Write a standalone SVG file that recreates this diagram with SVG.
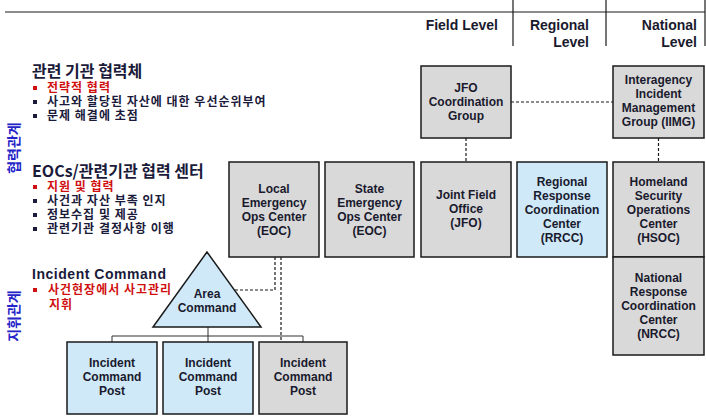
<svg xmlns="http://www.w3.org/2000/svg" width="706" height="416" viewBox="0 0 706 416">
<style>
.hdr{font-family:"Liberation Sans",Arial,sans-serif;font-weight:bold;font-size:14px;fill:#1a1a2e;text-anchor:end}
.nt{font-family:"Liberation Sans",Arial,sans-serif;font-weight:bold;font-size:12px;fill:#1a1a2e;text-anchor:middle}
.gray{fill:#d9d9d9;stroke:#1a1a1a;stroke-width:1.5}
.blue{fill:#cfe9f9;stroke:#1a1a1a;stroke-width:1.5}
.ko{font-family:"Noto Sans CJK KR",sans-serif;font-weight:bold;fill:#1a1a3a}
.kt{font-size:16px}
.kb{font-size:12px;letter-spacing:1px}
.red{fill:#d01010}
.vt{font-family:"Noto Sans CJK KR",sans-serif;font-weight:bold;font-size:14px;fill:#2424c8;text-anchor:middle}
.dash{fill:none;stroke:#1a1a1a;stroke-width:1.2;stroke-dasharray:3,2}
.solid{fill:none;stroke:#333;stroke-width:1}
.hl{stroke:#1a1a1a;stroke-width:1.2}
</style>
<rect width="706" height="416" fill="#ffffff"/>
<g id="header">
<line class="hl" x1="5" y1="12" x2="705" y2="12"/>
<line class="hl" x1="513" y1="0" x2="513" y2="46"/>
<line class="hl" x1="606" y1="0" x2="606" y2="46"/>
<line class="hl" x1="705" y1="0" x2="705" y2="46"/>
<text class="hdr" x="498" y="30">Field Level</text>
<text class="hdr" x="589" y="30">Regional</text>
<text class="hdr" x="589" y="47">Level</text>
<text class="hdr" x="697" y="30">National</text>
<text class="hdr" x="697" y="47">Level</text>
</g>
<g id="legend">
<text class="vt" transform="translate(19,148) rotate(-90)">협력관계</text>
<text class="vt" transform="translate(19,316) rotate(-90)">지휘관계</text>
<text class="ko kt" x="32" y="77">관련 기관 협력체</text>
<rect x="33" y="86" width="4" height="4" fill="#d01010"/>
<text class="ko kb red" x="47" y="92">전략적 협력</text>
<rect x="33" y="100" width="4" height="4" fill="#1a1a3a"/>
<text class="ko kb" x="47" y="106">사고와 할당된 자산에 대한 우선순위부여</text>
<rect x="33" y="114" width="4" height="4" fill="#1a1a3a"/>
<text class="ko kb" x="47" y="120">문제 해결에 초점</text>
<text class="ko kt" x="32" y="177">EOCs/관련기관 협력 센터</text>
<rect x="33" y="185" width="4" height="4" fill="#d01010"/>
<text class="ko kb red" x="47" y="191">지원 및 협력</text>
<rect x="33" y="199" width="4" height="4" fill="#1a1a3a"/>
<text class="ko kb" x="47" y="205">사건과 자산 부족 인지</text>
<rect x="33" y="213" width="4" height="4" fill="#1a1a3a"/>
<text class="ko kb" x="47" y="219">정보수집 및 제공</text>
<rect x="33" y="227" width="4" height="4" fill="#1a1a3a"/>
<text class="ko kb" x="47" y="233">관련기관 결정사항 이행</text>
<text x="32" y="279" font-family="'Liberation Sans',Arial,sans-serif" font-weight="bold" font-size="14" fill="#1a1a3a" textLength="134" lengthAdjust="spacing">Incident Command</text>
<rect x="33" y="288" width="4" height="4" fill="#d01010"/>
<text class="ko kb red" x="48" y="294">사건현장에서 사고관리</text>
<text class="ko kb red" x="49" y="309">지휘</text>
</g>
<g id="connectors">
<line class="dash" x1="511" y1="102" x2="613" y2="102"/>
<line class="dash" x1="466" y1="138" x2="466" y2="162"/>
<line class="dash" x1="658.5" y1="138" x2="658.5" y2="162"/>
<path class="dash" d="M275,257 V290 H235"/>
<path class="dash" d="M281,257 V342"/>
<path class="solid" d="M208,327 V336 M112,336 H303 M112,336 V342 M208,336 V342 M303,336 V342"/>
</g>
<g id="jfo-coord">
<rect class="gray" x="421" y="66" width="90" height="72"/>
<text class="nt" x="466" y="92">JFO</text>
<text class="nt" x="466" y="106">Coordination</text>
<text class="nt" x="466" y="120">Group</text>
</g>
<g id="iimg">
<rect class="gray" x="613" y="66" width="91" height="72"/>
<text class="nt" x="658.5" y="84">Interagency</text>
<text class="nt" x="658.5" y="98">Incident</text>
<text class="nt" x="658.5" y="112">Management</text>
<text class="nt" x="658.5" y="126">Group (IIMG)</text>
</g>
<g id="local-eoc">
<rect class="gray" x="229" y="162" width="90" height="95"/>
<text class="nt" x="274" y="193">Local</text>
<text class="nt" x="274" y="207">Emergency</text>
<text class="nt" x="274" y="221">Ops Center</text>
<text class="nt" x="274" y="235">(EOC)</text>
</g>
<g id="state-eoc">
<rect class="gray" x="325" y="162" width="89" height="95"/>
<text class="nt" x="369.5" y="193">State</text>
<text class="nt" x="369.5" y="207">Emergency</text>
<text class="nt" x="369.5" y="221">Ops Center</text>
<text class="nt" x="369.5" y="235">(EOC)</text>
</g>
<g id="jfo">
<rect class="gray" x="421" y="162" width="90" height="95"/>
<text class="nt" x="466" y="199">Joint Field</text>
<text class="nt" x="466" y="213">Office</text>
<text class="nt" x="466" y="227">(JFO)</text>
</g>
<g id="rrcc">
<rect class="blue" x="517" y="162" width="90" height="95"/>
<text class="nt" x="562" y="186">Regional</text>
<text class="nt" x="562" y="200">Response</text>
<text class="nt" x="562" y="214">Coordination</text>
<text class="nt" x="562" y="228">Center</text>
<text class="nt" x="562" y="242">(RRCC)</text>
</g>
<g id="hsoc">
<rect class="gray" x="613" y="162" width="91" height="95"/>
<text class="nt" x="658.5" y="186">Homeland</text>
<text class="nt" x="658.5" y="200">Security</text>
<text class="nt" x="658.5" y="214">Operations</text>
<text class="nt" x="658.5" y="228">Center</text>
<text class="nt" x="658.5" y="242">(HSOC)</text>
</g>
<g id="nrcc">
<rect class="gray" x="613" y="257" width="91" height="98"/>
<text class="nt" x="658.5" y="282">National</text>
<text class="nt" x="658.5" y="296">Response</text>
<text class="nt" x="658.5" y="310">Coordination</text>
<text class="nt" x="658.5" y="324">Center</text>
<text class="nt" x="658.5" y="338">(NRCC)</text>
</g>
<g id="area-command">
<polygon class="blue" points="207,252 153,327 261,327"/>
<text class="nt" x="207" y="298">Area</text>
<text class="nt" x="207" y="312">Command</text>
</g>
<g id="icp1">
<rect class="blue" x="67" y="342" width="90" height="72"/>
<text class="nt" x="112" y="367">Incident</text>
<text class="nt" x="112" y="381">Command</text>
<text class="nt" x="112" y="395">Post</text>
</g>
<g id="icp2">
<rect class="blue" x="163" y="342" width="90" height="72"/>
<text class="nt" x="208" y="367">Incident</text>
<text class="nt" x="208" y="381">Command</text>
<text class="nt" x="208" y="395">Post</text>
</g>
<g id="icp3">
<rect class="gray" x="259" y="342" width="88" height="72"/>
<text class="nt" x="303" y="367">Incident</text>
<text class="nt" x="303" y="381">Command</text>
<text class="nt" x="303" y="395">Post</text>
</g>
</svg>
